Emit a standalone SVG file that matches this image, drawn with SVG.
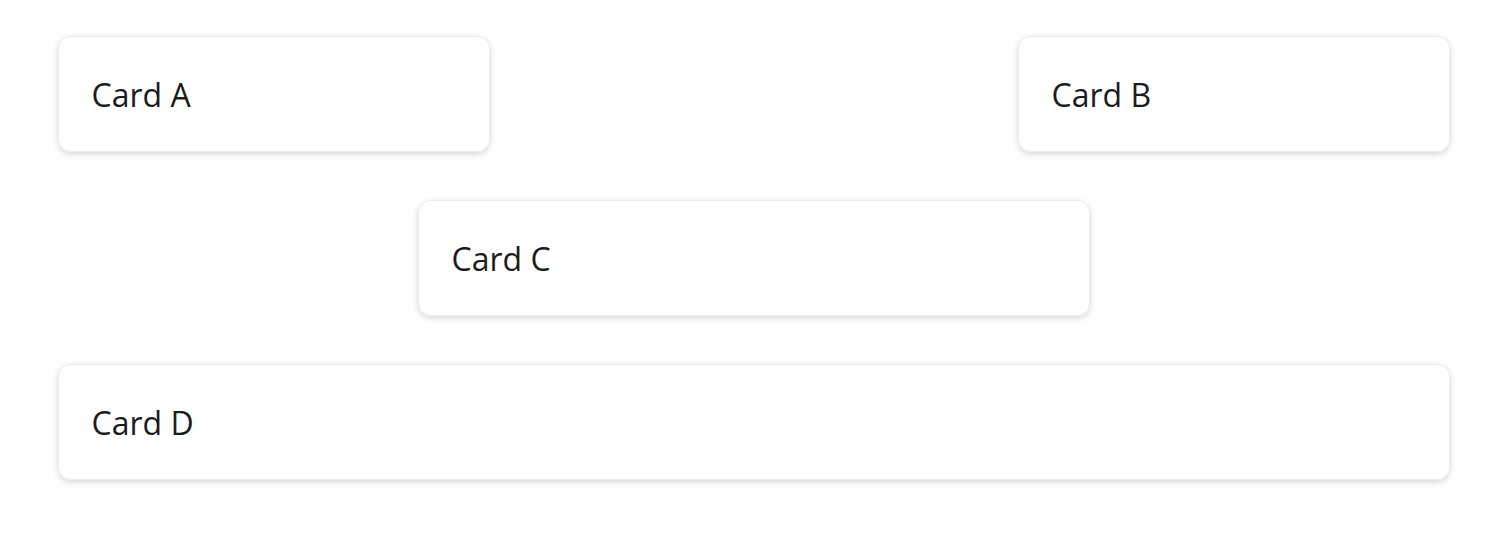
<svg xmlns="http://www.w3.org/2000/svg" width="1512" height="536" viewBox="0 0 1512 536">
<style>
.card{fill:#ffffff;stroke:#ececec;stroke-width:1;filter:url(#sh)}
.lbl{font-family:"Open Sans","Noto Sans",sans-serif;font-size:32px;fill:#1c1c1c}
</style>
<defs>
<filter id="sh" x="-10%" y="-30%" width="120%" height="170%">
<feDropShadow dx="0" dy="2" stdDeviation="3" flood-color="#000" flood-opacity="0.16"/>
</filter>
</defs>
<rect width="1512" height="536" fill="#ffffff"/>
<g id="connectors"></g>
<g id="cardA"><rect class="card" x="58.5" y="36.5" width="431" height="115" rx="12"/><text class="lbl" x="91.5" y="107">Card A</text></g>
<g id="cardB"><rect class="card" x="1018.5" y="36.5" width="431" height="115" rx="12"/><text class="lbl" x="1051.5" y="107">Card B</text></g>
<g id="cardC"><rect class="card" x="418.5" y="200.5" width="671" height="115" rx="12"/><text class="lbl" x="451.5" y="271">Card C</text></g>
<g id="cardD"><rect class="card" x="58.5" y="364.5" width="1391" height="115" rx="12"/><text class="lbl" x="91.5" y="435">Card D</text></g>
</svg>
